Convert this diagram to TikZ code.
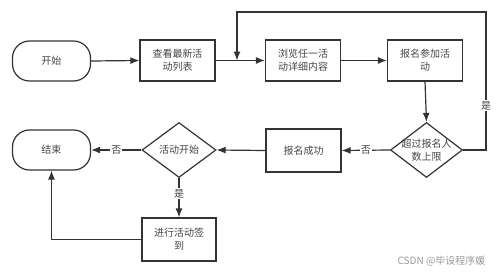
\documentclass[tikz,border=0pt]{standalone}
\usepackage{fontspec}
\setmainfont{Noto Sans CJK SC}
\usetikzlibrary{arrows.meta,shapes.geometric}
\definecolor{ln}{HTML}{333333}
\definecolor{tx}{HTML}{444444}
\begin{document}
\begin{tikzpicture}[x=1pt,y=-1pt,
  every node/.style={font=\fontsize{10}{13}\selectfont,text=tx},
  term/.style={draw=ln,line width=1.2pt,rounded corners=17pt,minimum width=78pt,minimum height=40pt,inner sep=0pt},
  proc/.style={draw=ln,line width=1.2pt,minimum width=75pt,minimum height=41pt,inner sep=0pt,align=center},
  dec/.style={draw=ln,line width=1.2pt,diamond,minimum width=72pt,minimum height=55pt,inner sep=0pt},
  conn/.style={draw=ln,line width=1.2pt,-{Latex[length=9pt,width=7pt]}},
  plain/.style={draw=ln,line width=1.2pt},
  lab/.style={fill=white,inner sep=1pt}]
\useasboundingbox (0,0) rectangle (499,273);
\node[term] (start) at (51.5,61) {开始};
\node[proc] (b1) at (177.5,60.5) {查看最新活\\动列表};
\node[proc] (b2) at (303,60.5) {浏览任一活\\动详细内容};
\node[proc] (b3) at (425,60.5) {报名参加活\\动};
\node[dec] (d1) at (426.5,150) {};
\node[align=center] (d1t) at (d1.center) {超过报名人\\数上限};
\node[proc,minimum height=43pt] (b4) at (303.5,150.5) {报名成功};
\node[dec,minimum width=74pt] (d2) at (179,150) {};
\node (d2t) at (d2.center) {活动开始};
\node[term] (end) at (51.5,150) {结束};
\node[proc,minimum width=74pt,minimum height=43pt] (b5) at (179,239.5) {进行活动签\\到};
\coordinate (loopin) at (237,60.5);
\coordinate (r1) at (486,150);
\coordinate (r2) at (486,12);
\coordinate (r3) at (237,12);
\draw[conn] (start.east) -- (b1.west);
\draw[conn] (b1.east) -- (b2.west);
\draw[conn] (b2.east) -- (b3.west);
\draw[conn] (b3.south) -- (d1.north);
\draw[conn] (d1.east) -- (r1) -- node[lab,pos=0.32]{是} (r2) -- (r3) -- (loopin);
\draw[conn] (d1.west) -- node[lab]{否} (b4.east);
\draw[conn] (b4.west) -- (d2.east);
\draw[conn] (d2.west) -- node[lab]{否} (end.east);
\draw[conn] (d2.south) -- node[lab,pos=0.4]{是} (b5.north);
\draw[conn] (b5.west) -| (end.south);
\node[text=gray!80,font=\fontsize{10}{12}\selectfont,anchor=east] (wm) at (489,261) {CSDN @毕设程序媛};
\end{tikzpicture}
\end{document}
